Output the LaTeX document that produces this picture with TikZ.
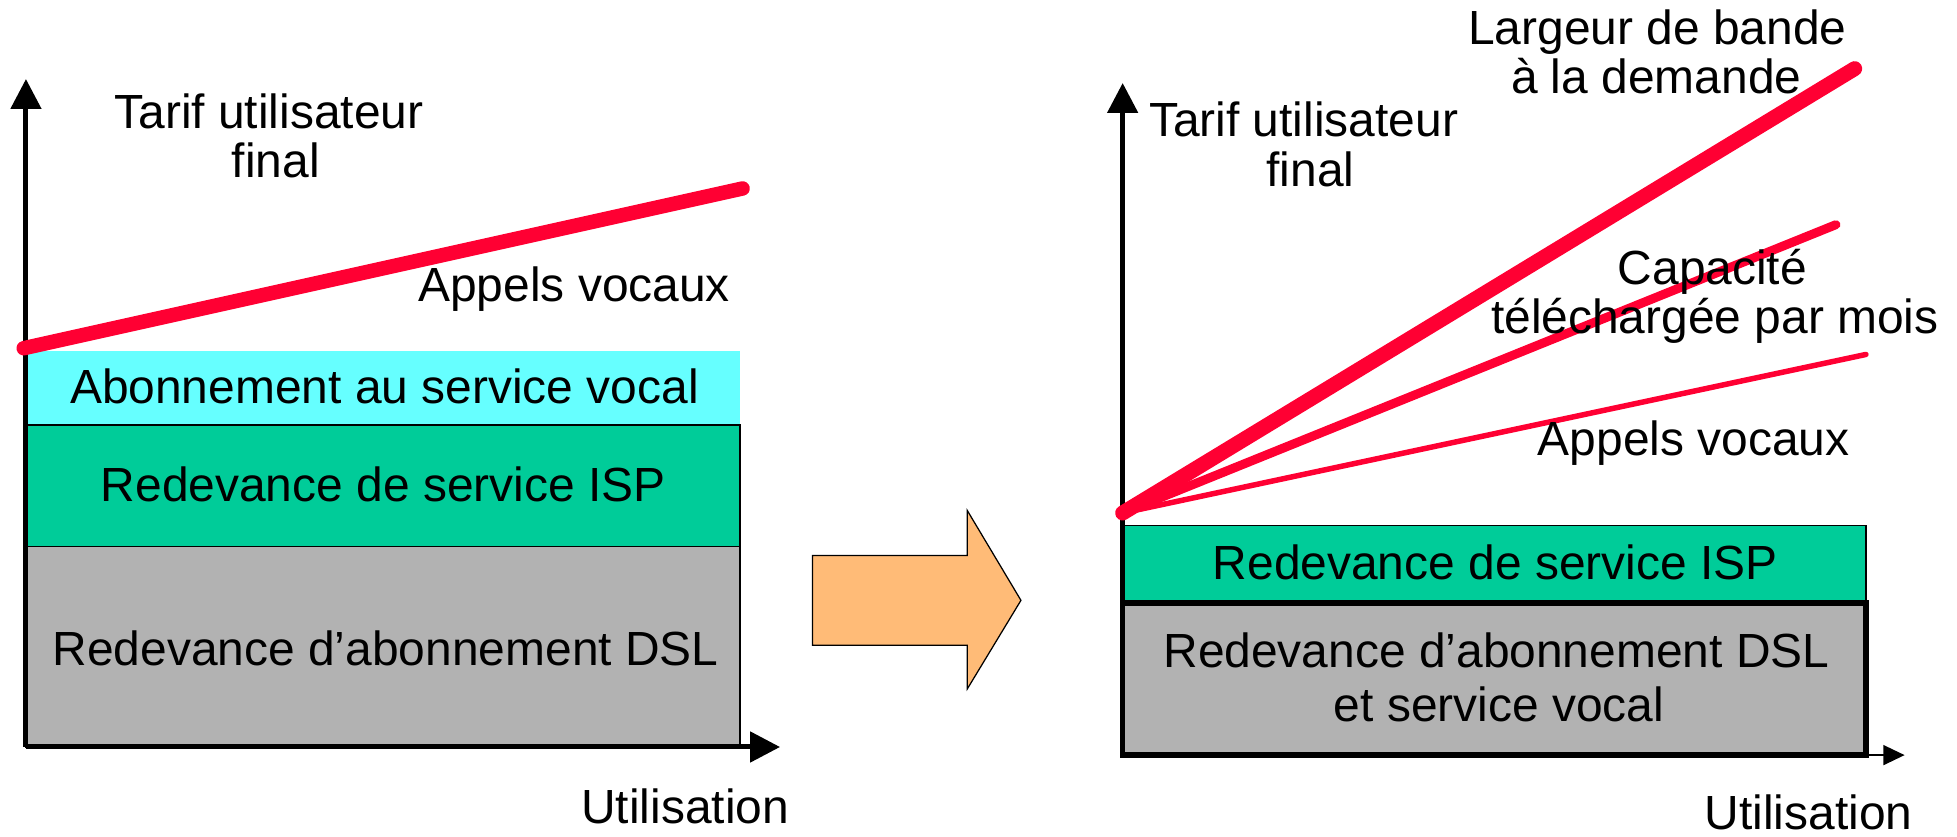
\documentclass[tikz,border=0pt]{standalone}
\usepackage{fontspec}
\setmainfont{Liberation Sans}
\usetikzlibrary{arrows.meta}
\definecolor{tred}{HTML}{FF0033}
\definecolor{tcyan}{HTML}{66FFFF}
\definecolor{tgreen}{HTML}{00CC99}
\definecolor{tgray}{HTML}{B2B2B2}
\definecolor{torange}{HTML}{FFBB77}
\begin{document}
\begin{tikzpicture}[x=0.5pt,y=-0.5pt,
  lbl/.style={font=\fontsize{19.2}{20}\selectfont, inner sep=0pt, anchor=base},
  axisline/.style={line width=2pt, -{Triangle[length=12pt,width=12pt]}},
  thinbox/.style={draw=black, line width=0.6pt},
  redline/.style={draw=tred, line cap=round}]
\useasboundingbox (0,0) rectangle (1568,670);

% ---------- left chart ----------
\coordinate (oL) at (20.8,598.5);
\coordinate (yL) at (20.8,63.3);
\coordinate (xL) at (625,598.5);
\coordinate (rL1) at (19,279);
\coordinate (rL2) at (595,151);

\fill[tcyan] (20.8,281) rectangle (593,340.5);
\path[thinbox, fill=tgreen] (20.8,340.5) rectangle (593,438);
\path[thinbox, fill=tgray] (20.8,438) rectangle (593,598.5);

\draw[axisline] (oL) -- (yL);
\draw[axisline] (oL) -- (xL);
\draw[redline, line width=5.8pt] (rL1) -- (rL2);

\node[lbl] (tarifLa) at (215.5,102.6) {Tarif utilisateur};
\node[lbl] (tarifLb) at (221,142.6) {final};
\node[lbl] (appelsL) at (460,241.7) {Appels vocaux};
\node[lbl] (abonL) at (308,323) {Abonnement au service vocal};
\node[lbl] (ispL) at (307,402) {Redevance de service ISP};
\node[lbl] (dslL) at (309,533) {Redevance d’abonnement DSL};
\node[lbl] (utilL) at (549,660) {Utilisation};

% ---------- big arrow ----------
\path[draw=black, line width=0.5pt, fill=torange]
  (651,445) -- (775,445) -- (775,409) -- (818,481) -- (775,552) -- (775,517) -- (651,517) -- cycle;

% ---------- right chart ----------
\coordinate (oR) at (899.5,605);
\coordinate (yR) at (899.5,66.5);
\coordinate (boxR) at (1495,605);
\coordinate (xR) at (1526,605);
\coordinate (o2) at (899.5,411);
\coordinate (eThick) at (1486,55);
\coordinate (eMed) at (1471,180);
\coordinate (eThin) at (1495,284);

\path[thinbox, fill=tgreen] (899.5,421) rectangle (1495,483);
\draw[line width=0.6pt, -{Triangle[length=8.5pt,width=8pt]}] (boxR) -- (xR);
\path[draw=black, line width=2.2pt, fill=tgray] (899.5,483) rectangle (1495,605);
\draw[axisline] (oR) -- (yR);

\draw[redline, line width=2.2pt] (o2) -- (eThin);
\draw[redline, line width=3.6pt] (o2) -- (eMed);
\draw[redline, line width=6pt] (o2) -- (eThick);

\node[lbl] (largRa) at (1328,36) {Largeur de bande};
\node[lbl] (largRb) at (1327,74.8) {à la demande};
\node[lbl] (tarifRa) at (1044.5,109.5) {Tarif utilisateur};
\node[lbl] (tarifRb) at (1050,149.6) {final};
\node[lbl] (capRa) at (1372,228) {Capacité};
\node[lbl] (capRb) at (1374,267) {téléchargée par mois};
\node[lbl] (appelsR) at (1357,364.6) {Appels vocaux};
\node[lbl] (ispR) at (1198,464) {Redevance de service ISP};
\node[lbl] (dslRa) at (1199,535) {Redevance d’abonnement DSL};
\node[lbl] (dslRb) at (1201,578) {et service vocal};
\node[lbl] (utilR) at (1449,665) {Utilisation};
\end{tikzpicture}
\end{document}
